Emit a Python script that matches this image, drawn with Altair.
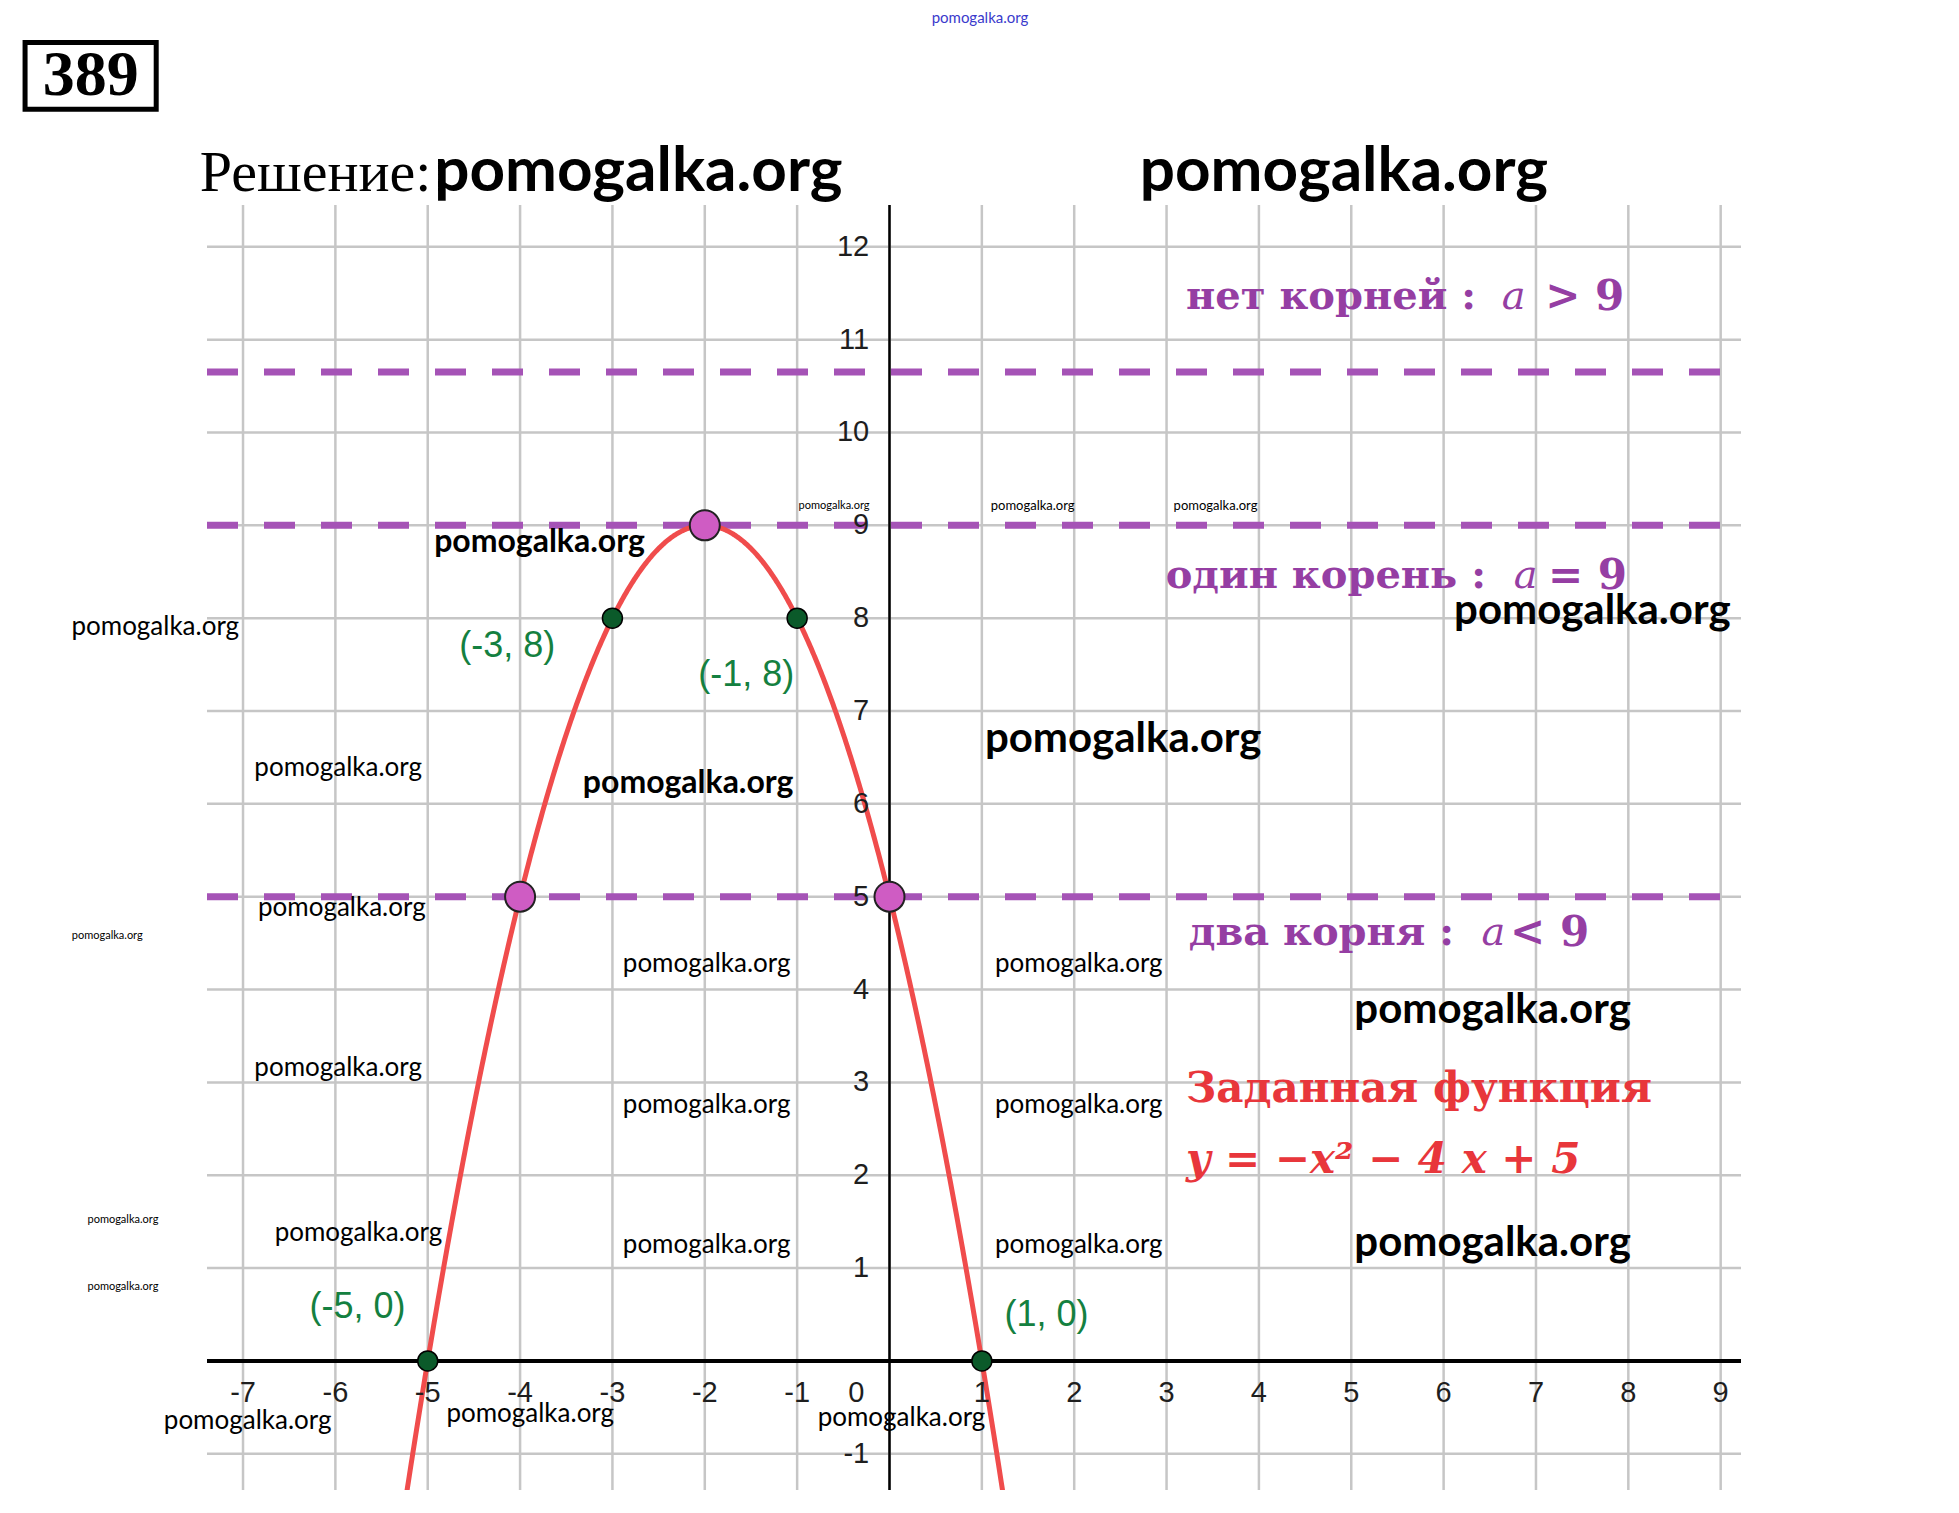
import altair as alt
import pandas as pd

# ---------------- data ----------------
X_DOMAIN = [-7.39, 9.22]
Y_DOMAIN = [-1.39, 12.45]
PLOT_W, PLOT_H = 1534, 1285

grid_x = list(range(-7, 10))
grid_y = list(range(-1, 13))

x_tick_vals = [-7, -6, -5, -4, -3, -2, -1, 1, 2, 3, 4, 5, 6, 7, 8, 9]
y_tick_vals = [-1, 1, 2, 3, 4, 5, 6, 7, 8, 9, 10, 11, 12]

dashed_levels = [10.65, 9, 5]

green_x = [-5, 1, -3, -1]
green_y = [0, 0, 8, 8]
green_labels = ["(-5, 0)", "(1, 0)", "(-3, 8)", "(-1, 8)"]
green_label_x = [-5.76, 1.70, -4.14, -1.55]
green_label_y = [0.58, 0.49, 7.70, 7.39]

pink_x = [-2, -4, 0]
pink_y = [9, 5, 5]

purple_words = ["нет корней :", "один корень :", "два корня :"]
purple_words_x = [3.21, 2.99, 3.24]
purple_var_x = [6.63, 6.76, 6.41]
purple_rel = ["> 9", "= 9", "< 9"]
purple_rel_x = [7.10, 7.13, 6.72]
purple_y = [11.46, 8.45, 4.61]

red_lines = ["Заданная функция", "y  =  −x²  −  4 x  +  5"]
red_x = [3.21, 3.21]
red_y = [2.93, 2.16]

wm_text = "pomogalka.org"
# heavier watermarks
wmb_x = [-3.79, -2.18, 2.53, 7.61, 6.53, 6.53]
wmb_y = [8.82, 6.23, 6.70, 8.08, 3.78, 1.27]
wmb_size = [32, 32, 42, 42, 42, 42]
# lighter watermarks
wml_x = [-7.95, -5.97, -5.93, -8.47, -1.98, 2.05, -5.97, -1.98, 2.05, -5.75, -1.98,
         2.05, -8.30, -8.30, -6.95, -3.89, 0.13, -0.60, 1.55, 3.53]
wml_y = [7.90, 6.39, 4.88, 4.58, 4.27, 4.27, 3.15, 2.76, 2.76, 1.38, 1.25,
         1.25, 1.52, 0.80, -0.65, -0.57, -0.61, 9.21, 9.21, 9.21]
wml_size = [26, 26, 26, 11, 26, 26, 26, 26, 26, 26, 26,
            26, 11, 11, 26, 26, 26, 11, 13, 13]

# ---------------- helpers ----------------
xs = alt.Scale(domain=X_DOMAIN, nice=False, zero=False)
ys = alt.Scale(domain=Y_DOMAIN, nice=False, zero=False)


def X(f):
    return alt.X(f, type="quantitative", scale=xs, axis=None)


def Y(f):
    return alt.Y(f, type="quantitative", scale=ys, axis=None)


GRID = "#c6c6c6"
PURPLE_LINE = "#a553b6"
PURPLE_TEXT = "#953ea3"
RED = "#f04c4c"
RED_TEXT = "#e8363b"
GREEN = "#0b5a2a"
GREEN_TEXT = "#148040"
PINK = "#cf5cc3"

layers = []

# grid
layers.append(alt.Chart(pd.DataFrame({"gx": grid_x})).mark_rule(
    color=GRID, strokeWidth=2.5).encode(x=X("gx")))
layers.append(alt.Chart(pd.DataFrame({"gy": grid_y})).mark_rule(
    color=GRID, strokeWidth=2.5).encode(y=Y("gy")))

# dashed level lines (drawn left to right)
layers.append(alt.Chart(pd.DataFrame({"a": dashed_levels})).mark_rule(
    color=PURPLE_LINE, strokeWidth=7, strokeDash=[31, 26]).encode(
    y=Y("a"), x=alt.value(0), x2=alt.value(PLOT_W)))

# axes
layers.append(alt.Chart(pd.DataFrame({"v": [0]})).mark_rule(
    color="black", strokeWidth=4).encode(y=Y("v")))
layers.append(alt.Chart(pd.DataFrame({"v": [0]})).mark_rule(
    color="black", strokeWidth=2.5).encode(x=X("v")))

# parabola  y = -x^2 - 4x + 5
layers.append(
    alt.Chart(alt.sequence(-5.5, 1.51, 0.01, as_="x"))
    .transform_calculate(y="-datum.x*datum.x - 4*datum.x + 5")
    .mark_line(color=RED, strokeWidth=5, clip=True)
    .encode(x=X("x"), y=Y("y"), order="x:Q")
)

# points
layers.append(alt.Chart(pd.DataFrame({"x": pink_x, "y": pink_y})).mark_circle(
    size=900, color=PINK, opacity=1, stroke="#222222", strokeWidth=2).encode(x=X("x"), y=Y("y")))
layers.append(alt.Chart(pd.DataFrame({"x": green_x, "y": green_y})).mark_circle(
    size=400, color=GREEN, opacity=1, stroke="black", strokeWidth=1.5).encode(x=X("x"), y=Y("y")))

# tick labels
layers.append(alt.Chart(pd.DataFrame({"x": x_tick_vals, "t": [str(v) for v in x_tick_vals]}))
              .transform_calculate(yy="-0.34")
              .mark_text(font="Liberation Sans", fontSize=29, color="#1e1e1e", align="center", baseline="middle")
              .encode(x=X("x"), y=Y("yy"), text="t:N"))
layers.append(alt.Chart(pd.DataFrame({"y": y_tick_vals, "t": [str(v) for v in y_tick_vals]}))
              .transform_calculate(xx="-0.22")
              .mark_text(font="Liberation Sans", fontSize=29, color="#1e1e1e", align="right", baseline="middle")
              .encode(y=Y("y"), x=X("xx"), text="t:N"))
layers.append(alt.Chart(pd.DataFrame({"x": [-0.36], "y": [-0.34], "t": ["0"]})).mark_text(
    font="Liberation Sans", fontSize=29, color="#1e1e1e", align="center", baseline="middle").encode(
    x=X("x"), y=Y("y"), text="t:N"))

# green point labels
layers.append(alt.Chart(pd.DataFrame({"x": green_label_x, "y": green_label_y, "t": green_labels})).mark_text(
    font="Liberation Sans", fontSize=36, color=GREEN_TEXT, align="center", baseline="middle").encode(
    x=X("x"), y=Y("y"), text="t:N"))

# purple annotations
pdf = pd.DataFrame({"wx": purple_words_x, "vx": purple_var_x, "rx": purple_rel_x, "y": purple_y,
                    "w": purple_words, "v": ["a"] * 3, "r": purple_rel})
layers.append(alt.Chart(pdf).mark_text(font="DejaVu Serif", fontWeight="bold", fontSize=40,
                                       color=PURPLE_TEXT, align="left", baseline="middle").encode(
    x=X("wx"), y=Y("y"), text="w:N"))
layers.append(alt.Chart(pdf).mark_text(font="DejaVu Serif", fontStyle="italic", fontSize=40,
                                       color=PURPLE_TEXT, align="left", baseline="middle").encode(
    x=X("vx"), y=Y("y"), text="v:N"))
layers.append(alt.Chart(pdf).mark_text(font="DejaVu Serif", fontWeight="bold", fontSize=42,
                                       color=PURPLE_TEXT, align="left", baseline="middle").encode(
    x=X("rx"), y=Y("y"), text="r:N"))

# red annotations
layers.append(alt.Chart(pd.DataFrame({"x": red_x[:1], "y": red_y[:1], "t": red_lines[:1]})).mark_text(
    font="DejaVu Serif", fontWeight="bold", fontSize=42, color=RED_TEXT, align="left", baseline="middle").encode(
    x=X("x"), y=Y("y"), text="t:N"))
layers.append(alt.Chart(pd.DataFrame({"x": red_x[1:], "y": red_y[1:], "t": red_lines[1:]})).mark_text(
    font="DejaVu Serif", fontStyle="italic", fontWeight="bold", fontSize=42, color=RED_TEXT, align="left",
    baseline="middle").encode(x=X("x"), y=Y("y"), text="t:N"))

# header: problem number box and title
layers.append(alt.Chart(pd.DataFrame({"x1": [-9.36], "x2": [-7.94], "y1": [13.48], "y2": [14.20]})).mark_rect(
    fill="white", stroke="black", strokeWidth=5).encode(x=X("x1"), x2="x2", y=Y("y1"), y2="y2"))
layers.append(alt.Chart(pd.DataFrame({"x": [-8.65], "y": [13.84], "t": ["389"]})).mark_text(
    font="Liberation Serif", fontWeight="bold", fontSize=64, color="black", align="center", baseline="middle").encode(
    x=X("x"), y=Y("y"), text="t:N"))
layers.append(alt.Chart(pd.DataFrame({"x": [-4.96], "y": [12.60], "t": ["Решение:"]})).mark_text(
    font="Liberation Serif", fontSize=58, color="black", align="right", baseline="alphabetic").encode(
    x=X("x"), y=Y("y"), text="t:N"))
layers.append(alt.Chart(pd.DataFrame({"x": [-4.93, 2.71], "y": [12.60, 12.60], "t": [wm_text] * 2})).mark_text(
    font="Lato", fontWeight="bold", fontSize=62, color="black", align="left", baseline="alphabetic").encode(
    x=X("x"), y=Y("y"), text="t:N"))
layers.append(alt.Chart(pd.DataFrame({"x": [0.98], "y": [14.46], "t": [wm_text]})).mark_text(
    font="Lato", fontSize=15, color="#3a3acc", align="center", baseline="middle").encode(
    x=X("x"), y=Y("y"), text="t:N"))

# watermarks
layers.append(alt.Chart(pd.DataFrame({"x": wmb_x, "y": wmb_y, "s": wmb_size, "t": [wm_text] * len(wmb_x)})).mark_text(
    font="Lato", fontWeight="bold", color="black", align="center", baseline="middle").encode(
    x=X("x"), y=Y("y"), text="t:N", size=alt.Size("s:Q", scale=None, legend=None)))
layers.append(alt.Chart(pd.DataFrame({"x": wml_x, "y": wml_y, "s": wml_size, "t": [wm_text] * len(wml_x)})).mark_text(
    font="Lato", fontWeight="normal", color="black", align="center", baseline="middle").encode(
    x=X("x"), y=Y("y"), text="t:N", size=alt.Size("s:Q", scale=None, legend=None)))

chart = alt.layer(*layers).properties(
    width=PLOT_W, height=PLOT_H,
    padding={"left": 199, "top": 197, "right": 10, "bottom": 15},
    autosize=alt.AutoSizeParams(type="none"),
    background="white",
).configure_view(stroke=None)

chart.save("out.html", embed_options={"renderer": "svg", "actions": False})
